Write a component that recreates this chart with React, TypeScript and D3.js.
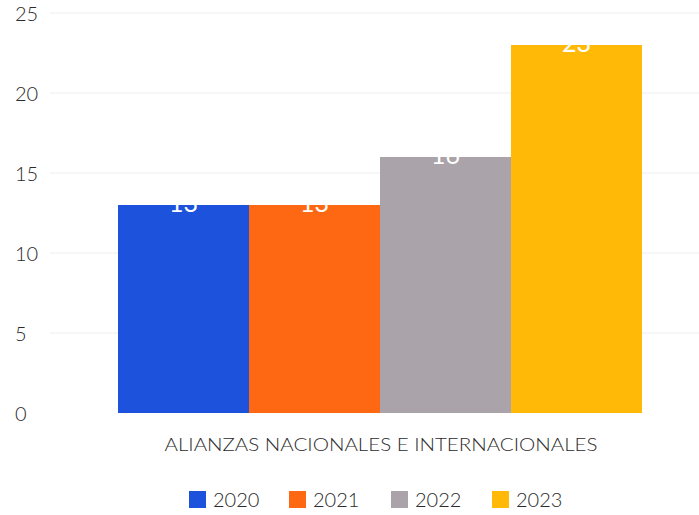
import React from "react";
import * as d3 from "d3";

const years = ["2020", "2021", "2022", "2023"];
const values = [13, 13, 16, 23];
const colors = ["#1c52dc", "#ff6812", "#aaa3a9", "#ffb906"];
const yTicks = [0, 5, 10, 15, 20, 25];
const categoryLabel = "ALIANZAS NACIONALES E INTERNACIONALES";

const W = 699;
const H = 515;
const FONT = "Lato, 'Open Sans', sans-serif";
const TEXT = "#2b2b2b";

export default function App() {
  const y = d3.scaleLinear().domain([0, 25]).range([413, 13]);
  const x = d3.scaleBand<string>().domain(years).range([118, 642]).padding(0);
  const legendX = [189, 289, 391, 492];

  return (
    <svg
      width={W}
      height={H}
      style={{ position: "absolute", left: 0, top: 0, background: "#fff" }}
    >
      {yTicks.map((t) => (
        <g key={t}>
          {t > 0 && (
            <line x1={50} x2={W} y1={y(t)} y2={y(t)} stroke="#eeeeee" strokeWidth={1} />
          )}
          <text
            x={15}
            y={y(t) + 3}
            fontFamily={FONT}
            fontSize={20}
            fontWeight={300}
            fill={TEXT}
            dominantBaseline="middle"
          >
            {t}
          </text>
        </g>
      ))}
      {years.map((yr, i) => (
        <g key={yr}>
          <rect
            x={x(yr)!}
            y={y(values[i])}
            width={x.bandwidth()}
            height={y(0) - y(values[i])}
            fill={colors[i]}
          />
          <text
            x={x(yr)! + x.bandwidth() / 2}
            y={y(values[i]) + 7}
            textAnchor="middle"
            fontFamily={FONT}
            fontSize={25}
            fill="#ffffff"
          >
            {values[i]}
          </text>
        </g>
      ))}
      <text
        x={381}
        y={451}
        textAnchor="middle"
        fontFamily={FONT}
        fontSize={17}
        fontWeight={300}
        fill={TEXT}
        textLength={433}
        lengthAdjust="spacingAndGlyphs"
      >
        {categoryLabel}
      </text>
      {years.map((yr, i) => (
        <g key={"lg" + yr}>
          <rect x={legendX[i]} y={491} width={17} height={17} fill={colors[i]} />
          <text
            x={legendX[i] + 24}
            y={507}
            fontFamily={FONT}
            fontSize={20}
            fontWeight={300}
            fill={TEXT}
          >
            {yr}
          </text>
        </g>
      ))}
    </svg>
  );
}
